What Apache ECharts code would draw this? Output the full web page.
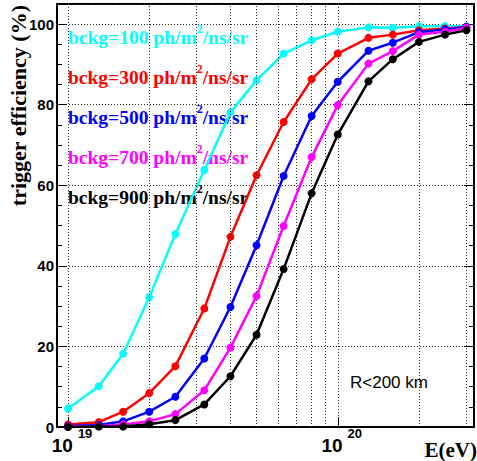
<!DOCTYPE html>
<html>
<head>
<meta charset="utf-8">
<script src="https://cdn.jsdelivr.net/npm/echarts@6/dist/echarts.min.js"></script>
<style>html,body{margin:0;padding:0;background:#fff}#c{width:477px;height:461px}</style>
</head>
<body>
<div id="c"></div>
<script>
// Energies (eV)
var energies = [1e19, 1.3e19, 1.6e19, 2e19, 2.5e19, 3.2e19, 4e19, 5e19, 6.3e19, 8e19, 1e20, 1.3e20, 1.6e20, 2e20, 2.5e20, 3e20];
// Trigger efficiency (%) for each background level
var eff100 = [4.6, 10.1, 18.2, 32.2, 47.9, 63.8, 78.1, 86.1, 92.7, 96.0, 98.1, 99.2, 99.1, 99.5, 99.5, 99.5];
var eff300 = [0.6, 1.2, 3.8, 8.4, 15.1, 29.4, 47.2, 62.5, 75.7, 86.3, 92.7, 96.6, 97.4, 98.5, 98.9, 99.3];
var eff500 = [0.25, 0.5, 1.4, 3.8, 7.5, 17.0, 29.8, 45.1, 62.3, 77.2, 85.7, 93.4, 95.4, 98.0, 98.7, 99.3];
var eff700 = [0.1, 0.2, 0.6, 1.4, 3.2, 9.1, 19.7, 32.5, 49.9, 67.0, 79.9, 90.2, 93.3, 97.4, 98.1, 99.1];
var eff900 = [0.0, 0.1, 0.1, 0.7, 1.7, 5.6, 12.6, 22.9, 39.2, 58.0, 72.6, 85.8, 91.3, 95.6, 97.4, 98.5];
var seriesNames = ['bckg=100', 'bckg=300', 'bckg=500', 'bckg=700', 'bckg=900'];
var seriesColors = ['#00ffff', '#ff0000', '#0000ff', '#ff00ff', '#000000'];
var minorGridX = [2e19, 3e19, 4e19, 5e19, 6e19, 7e19, 8e19, 9e19, 2e20, 3e20];
var yTicks = [0, 20, 40, 60, 80, 100];

var allEff = [eff100, eff300, eff500, eff700, eff900];
function pairs(arr){ return energies.map(function(e,i){ return [e, arr[i]]; }); }

var chart = echarts.init(document.getElementById('c'), null, {renderer: 'svg'});
var dotted = {type: [1, 2], color: '#333', width: 1};

var series = allEff.map(function(arr, k){
  return {
    name: seriesNames[k], type: 'line', data: pairs(arr),
    symbol: 'circle', symbolSize: 8, z: 3 + k,
    lineStyle: {color: seriesColors[k], width: 2.5},
    itemStyle: {color: seriesColors[k]}
  };
});
series.unshift({
  type: 'line', data: pairs(eff900), symbol: 'none', silent: true, z: 1,
  lineStyle: {opacity: 0}, itemStyle: {opacity: 0},
  markLine: {
    silent: true, symbol: ['none', 'none'], label: {show: false},
    lineStyle: dotted, animation: false,
    data: minorGridX.map(function(v){ return {xAxis: v}; })
  }
});

function isPow10(v){ var l = Math.log10(v); return Math.abs(l - Math.round(l)) < 1e-6; }

var option = {
  animation: false,
  backgroundColor: '#fff',
  grid: {left: 57, right: 3, top: 4, bottom: 34, show: true, borderColor: '#000', borderWidth: 2, backgroundColor: 'transparent'},
  xAxis: [{
    type: 'log', logBase: 10, min: 9.1e18, max: 3.2e20,
    axisLine: {show: true, lineStyle: {color: '#000', width: 2}},
    axisTick: {show: true, inside: true, length: 10, lineStyle: {color: '#000', width: 1}},
    splitLine: {show: true, lineStyle: dotted},
    axisLabel: {
      margin: 0, padding: [0, 0, 0, 8],
      formatter: function(v){
        if (!isPow10(v)) return '';
        return '{b|10}{s|' + Math.round(Math.log10(v)) + '}';
      },
      rich: {
        b: {fontFamily: 'Liberation Sans', fontWeight: 'bold', fontSize: 19, color: '#000', lineHeight: 28, verticalAlign: 'bottom'},
        s: {fontFamily: 'Liberation Sans', fontWeight: 'bold', fontSize: 13, color: '#000', lineHeight: 14, verticalAlign: 'top', padding: [0, 0, 0, 5]}
      }
    }
  }],
  yAxis: [{
    type: 'value', min: 0, max: 105, interval: 20, position: 'left',
    axisLine: {show: true, lineStyle: {color: '#000', width: 2}},
    axisTick: {show: true, inside: true, length: 10, lineStyle: {color: '#000', width: 1}},
    splitLine: {show: true, lineStyle: dotted},
    axisLabel: {
      margin: 3, color: '#000', fontFamily: 'Liberation Sans', fontWeight: 'bold', fontSize: 15,
      formatter: function(v){ return yTicks.indexOf(v) >= 0 ? String(v) : ''; }
    }
  }, {
    type: 'value', min: 0, max: 105, interval: 5, position: 'left',
    axisLine: {show: false}, axisLabel: {show: false}, splitLine: {show: false},
    axisTick: {show: true, inside: true, length: 5, lineStyle: {color: '#000', width: 1}}
  }, {
    type: 'value', min: 0, max: 105, interval: 20, position: 'right',
    axisLine: {show: true, lineStyle: {color: '#000', width: 2}}, axisLabel: {show: false}, splitLine: {show: false},
    axisTick: {show: true, inside: true, length: 10, lineStyle: {color: '#000', width: 1}}
  }, {
    type: 'value', min: 0, max: 105, interval: 5, position: 'right',
    axisLine: {show: false}, axisLabel: {show: false}, splitLine: {show: false},
    axisTick: {show: true, inside: true, length: 5, lineStyle: {color: '#000', width: 1}}
  }],
  series: series,
  graphic: [
    {type: 'text', x: 18, y: 5, rotation: Math.PI / 2,
     style: {text: 'trigger efficiency (%)', align: 'right', verticalAlign: 'middle',
       font: 'bold 22px "Liberation Serif"', fill: '#000'}},
    {type: 'text', x: 477, y: 460,
     style: {text: 'E(eV)', align: 'right', verticalAlign: 'bottom',
       font: 'bold 21px "Liberation Serif"', fill: '#000'}},
    {type: 'text', x: 350, y: 382,
     style: {text: 'R<200 km', align: 'left', verticalAlign: 'middle',
       font: '17px "Liberation Sans"', fill: '#000'}}
  ].concat(seriesNames.map(function(n, k){
    var lvl = n.split('=')[1];
    return {
      type: 'text', x: 68, y: 23 + 40 * k,
      style: {
        text: '{t|bckg=' + lvl + ' ph/m}{s|2}{t|/ns/sr}',
        align: 'left', verticalAlign: 'top',
        rich: {
          t: {fontFamily: 'Liberation Serif', fontWeight: 'bold', fontSize: 19.5, lineHeight: 24, verticalAlign: 'bottom', fill: seriesColors[k]},
          s: {fontFamily: 'Liberation Serif', fontWeight: 'bold', fontSize: 12, lineHeight: 12, verticalAlign: 'top', fill: seriesColors[k]}
        }
      }
    };
  }))
};
chart.setOption(option);
</script>
</body>
</html>
